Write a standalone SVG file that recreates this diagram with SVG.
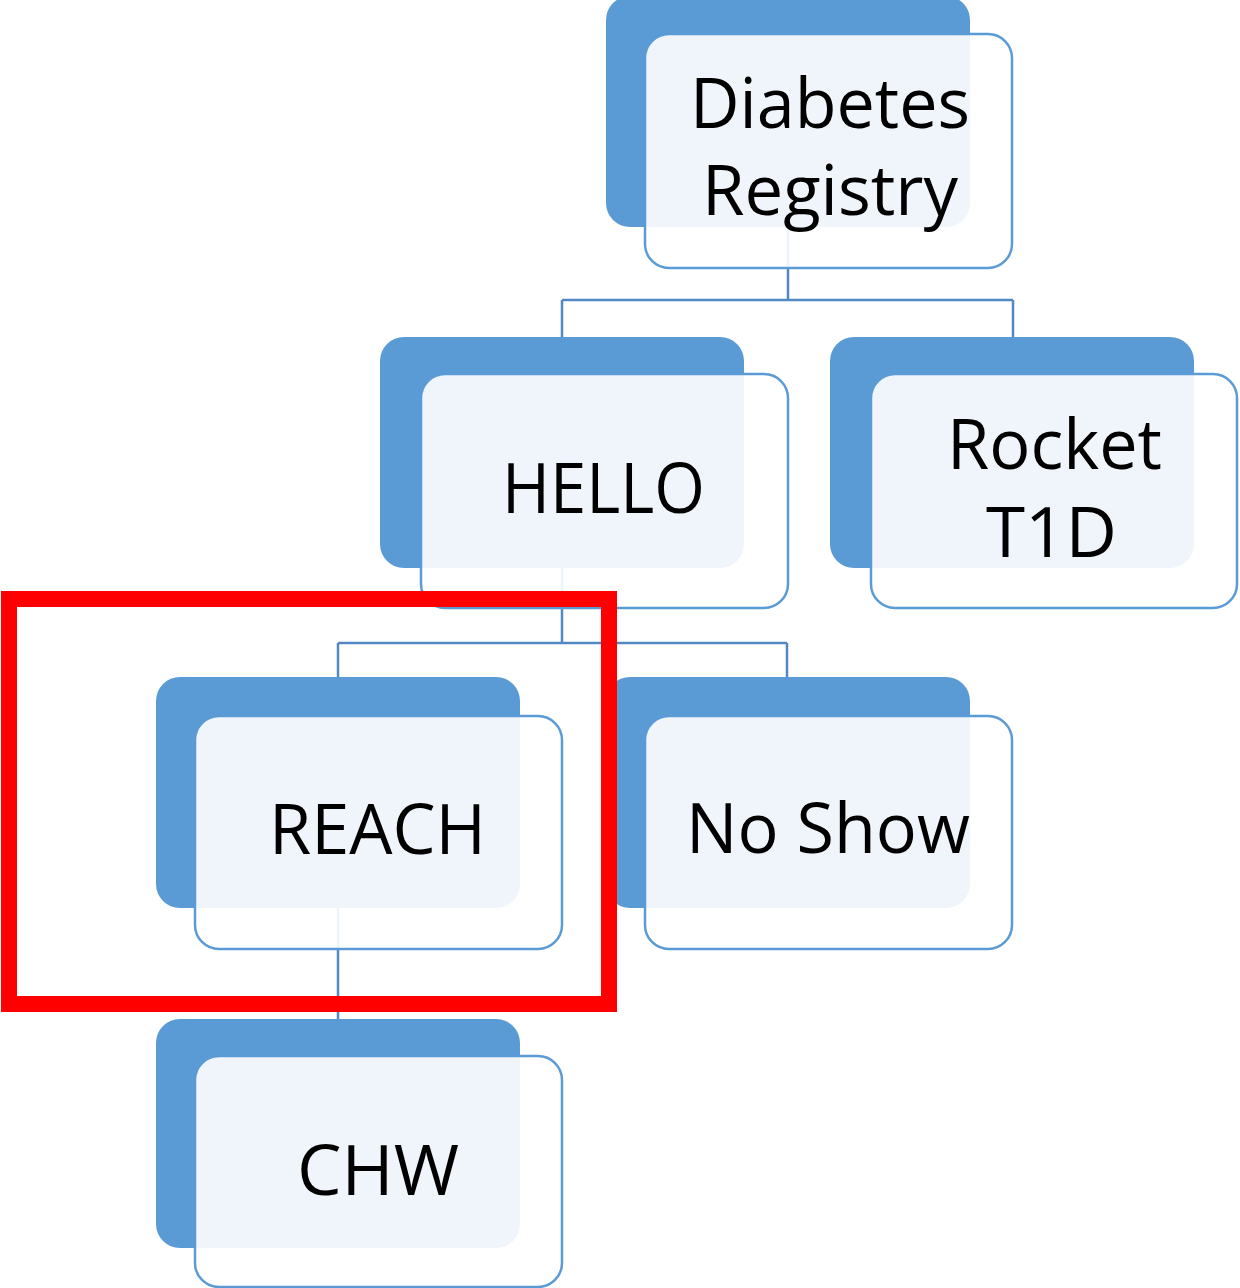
<svg xmlns="http://www.w3.org/2000/svg" width="1240" height="1288" viewBox="0 0 1240 1288">
<style>
.back{fill:#5B9BD5}
.front{fill:#FFFFFF;fill-opacity:0.9;stroke:#5B9BD5;stroke-width:2.5}
.conn{fill:none;stroke:#5289C4;stroke-width:2.5}
.lbl{font-family:"Open Sans","Liberation Sans",sans-serif;font-size:70px;fill:#000}
.hl{fill:none;stroke:#FF0000;stroke-width:16}
</style>
<rect width="1240" height="1288" fill="#FFFFFF"/>
<g id="connectors">
<path class="conn" d="M788 227 V300 M562 300 H1013 M562 300 V337 M1013 300 V337"/>
<path class="conn" d="M562 568 V643 M338 643 H787 M338 643 V677 M787 643 V677"/>
<path class="conn" d="M338 908 V1019"/>
</g>
<g id="node-diabetes-registry">
<rect class="back" x="606" y="-4" width="364" height="231" rx="24"/>
<rect class="front" x="645" y="34" width="367" height="234" rx="24"/>
<text class="lbl" x="690" y="128" textLength="280" lengthAdjust="spacingAndGlyphs">Diabetes</text>
<text class="lbl" x="702" y="215" textLength="256" lengthAdjust="spacingAndGlyphs">Registry</text>
</g>
<g id="node-hello">
<rect class="back" x="380" y="337" width="364" height="231" rx="24"/>
<rect class="front" x="421" y="374" width="367" height="234" rx="24"/>
<text class="lbl" x="502" y="513" textLength="203" lengthAdjust="spacingAndGlyphs">HELLO</text>
</g>
<g id="node-rocket-t1d">
<rect class="back" x="830" y="337" width="364" height="231" rx="24"/>
<rect class="front" x="871" y="374" width="366" height="234" rx="24"/>
<text class="lbl" x="947" y="469" textLength="215" lengthAdjust="spacingAndGlyphs">Rocket</text>
<text class="lbl" x="986" y="557" textLength="131" lengthAdjust="spacingAndGlyphs">T1D</text>
</g>
<g id="node-reach">
<rect class="back" x="156" y="677" width="364" height="231" rx="24"/>
<rect class="front" x="195" y="716" width="367" height="233" rx="24"/>
<text class="lbl" x="269" y="854" textLength="217" lengthAdjust="spacingAndGlyphs">REACH</text>
</g>
<g id="node-no-show">
<rect class="back" x="606" y="677" width="364" height="231" rx="24"/>
<rect class="front" x="645" y="716" width="367" height="233" rx="24"/>
<text class="lbl" x="686" y="853" textLength="284" lengthAdjust="spacingAndGlyphs">No Show</text>
</g>
<g id="node-chw">
<rect class="back" x="156" y="1019" width="364" height="229" rx="24"/>
<rect class="front" x="195" y="1056" width="367" height="231" rx="24"/>
<text class="lbl" x="297" y="1195" textLength="162" lengthAdjust="spacingAndGlyphs">CHW</text>
</g>
<rect id="highlight" class="hl" x="9" y="599" width="600" height="405"/>
</svg>
